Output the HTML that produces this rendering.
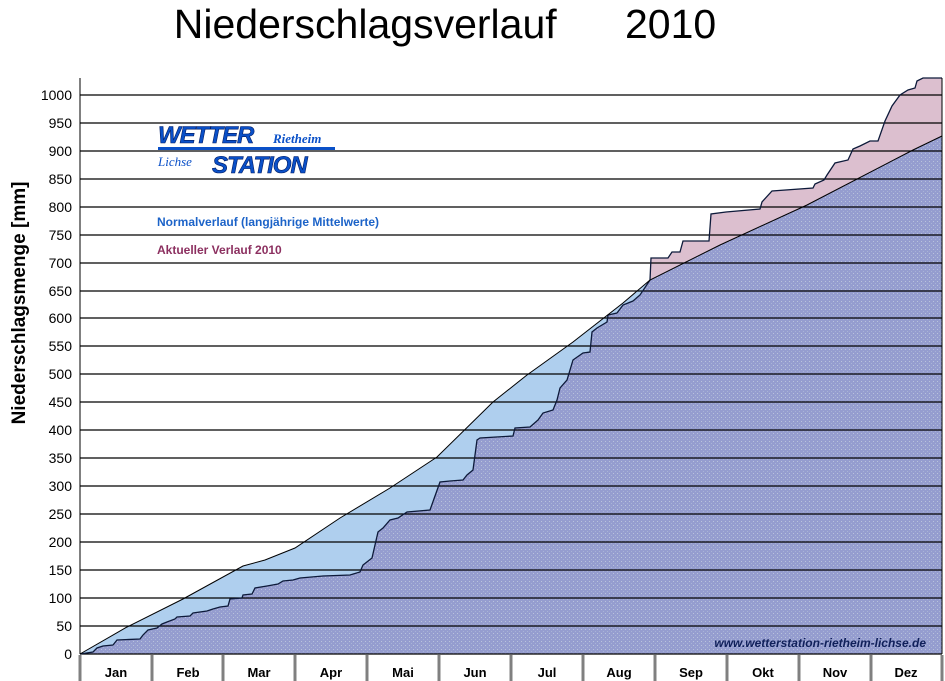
<!DOCTYPE html>
<html><head><meta charset="utf-8"><style>
html,body{margin:0;padding:0;background:#fff;}
svg{display:block;font-family:"Liberation Sans",Arial,sans-serif;}
</style></head><body>
<svg width="945" height="681" viewBox="0 0 945 681" xmlns="http://www.w3.org/2000/svg">
<defs>
<pattern id="dots" width="4" height="4" patternUnits="userSpaceOnUse">
<rect width="4" height="4" fill="#959dcf"/>
<rect x="1" y="1" width="1" height="1" fill="#b9c3dc"/>
<rect x="3" y="3" width="1" height="1" fill="#a8b3d6"/>
</pattern>
<clipPath id="nclip"><path d="M80,654 L127,627 L183,599 L243,566 L265,560 L295,548 L340,518 L390,488 L437,457 L493,402 L527,375 L573,342 L623,303 L650,280 L720,245 L807,205 L913,150 L942,136 L942,654 Z"/></clipPath>
</defs>
<path d="M80,654 L93,652 L97,648 L103,646 L113,645 L117,640 L140,639 L143,635 L148,630 L157,628 L162,624 L167,622 L175,619 L177,617 L190,616 L193,613 L207,611 L213,609 L220,607 L228,606 L230,599 L242,598 L243,595 L252,594 L255,588 L267,586 L278,584 L283,581 L293,580 L300,578 L323,576 L350,575 L360,572 L363,565 L372,558 L375,545 L378,532 L383,528 L390,520 L398,518 L407,512 L430,510 L440,482 L450,481 L463,480 L467,475 L473,470 L477,440 L480,438 L513,436 L515,428 L530,427 L538,420 L543,413 L553,410 L557,400 L560,388 L567,380 L573,360 L583,353 L590,352 L592,332 L597,328 L607,322 L608,315 L617,313 L623,305 L633,301 L640,295 L648,283 L650,280 L651,258 L668,258 L672,252 L680,252 L683,241 L709,241 L711,214 L726,212 L760,209 L762,202 L772,191 L813,188 L815,184 L824,180 L827,175 L835,163 L848,160 L853,149 L860,146 L870,141 L878,141 L885,121 L892,106 L900,95 L908,90 L915,88 L917,81 L923,78 L942,78 L942,654 Z" fill="#dcbfcf"/>
<path d="M80,654 L127,627 L183,599 L243,566 L265,560 L295,548 L340,518 L390,488 L437,457 L493,402 L527,375 L573,342 L623,303 L650,280 L720,245 L807,205 L913,150 L942,136 L942,654 Z" fill="#afcfee"/>
<g clip-path="url(#nclip)">
<path d="M80,654 L93,652 L97,648 L103,646 L113,645 L117,640 L140,639 L143,635 L148,630 L157,628 L162,624 L167,622 L175,619 L177,617 L190,616 L193,613 L207,611 L213,609 L220,607 L228,606 L230,599 L242,598 L243,595 L252,594 L255,588 L267,586 L278,584 L283,581 L293,580 L300,578 L323,576 L350,575 L360,572 L363,565 L372,558 L375,545 L378,532 L383,528 L390,520 L398,518 L407,512 L430,510 L440,482 L450,481 L463,480 L467,475 L473,470 L477,440 L480,438 L513,436 L515,428 L530,427 L538,420 L543,413 L553,410 L557,400 L560,388 L567,380 L573,360 L583,353 L590,352 L592,332 L597,328 L607,322 L608,315 L617,313 L623,305 L633,301 L640,295 L648,283 L650,280 L651,258 L668,258 L672,252 L680,252 L683,241 L709,241 L711,214 L726,212 L760,209 L762,202 L772,191 L813,188 L815,184 L824,180 L827,175 L835,163 L848,160 L853,149 L860,146 L870,141 L878,141 L885,121 L892,106 L900,95 L908,90 L915,88 L917,81 L923,78 L942,78 L942,654 Z" fill="url(#dots)"/>
</g>
<g stroke="#000" stroke-width="1.2">
<line x1="80" y1="95" x2="942" y2="95"/><line x1="80" y1="123" x2="942" y2="123"/><line x1="80" y1="151" x2="942" y2="151"/><line x1="80" y1="179" x2="942" y2="179"/><line x1="80" y1="207" x2="942" y2="207"/><line x1="80" y1="235" x2="942" y2="235"/><line x1="80" y1="263" x2="942" y2="263"/><line x1="80" y1="291" x2="942" y2="291"/><line x1="80" y1="318" x2="942" y2="318"/><line x1="80" y1="346" x2="942" y2="346"/><line x1="80" y1="374" x2="942" y2="374"/><line x1="80" y1="402" x2="942" y2="402"/><line x1="80" y1="430" x2="942" y2="430"/><line x1="80" y1="458" x2="942" y2="458"/><line x1="80" y1="486" x2="942" y2="486"/><line x1="80" y1="514" x2="942" y2="514"/><line x1="80" y1="542" x2="942" y2="542"/><line x1="80" y1="570" x2="942" y2="570"/><line x1="80" y1="598" x2="942" y2="598"/><line x1="80" y1="626" x2="942" y2="626"/><line x1="80" y1="654" x2="942" y2="654"/>
</g>
<path d="M80,654 L93,652 L97,648 L103,646 L113,645 L117,640 L140,639 L143,635 L148,630 L157,628 L162,624 L167,622 L175,619 L177,617 L190,616 L193,613 L207,611 L213,609 L220,607 L228,606 L230,599 L242,598 L243,595 L252,594 L255,588 L267,586 L278,584 L283,581 L293,580 L300,578 L323,576 L350,575 L360,572 L363,565 L372,558 L375,545 L378,532 L383,528 L390,520 L398,518 L407,512 L430,510 L440,482 L450,481 L463,480 L467,475 L473,470 L477,440 L480,438 L513,436 L515,428 L530,427 L538,420 L543,413 L553,410 L557,400 L560,388 L567,380 L573,360 L583,353 L590,352 L592,332 L597,328 L607,322 L608,315 L617,313 L623,305 L633,301 L640,295 L648,283 L650,280 L651,258 L668,258 L672,252 L680,252 L683,241 L709,241 L711,214 L726,212 L760,209 L762,202 L772,191 L813,188 L815,184 L824,180 L827,175 L835,163 L848,160 L853,149 L860,146 L870,141 L878,141 L885,121 L892,106 L900,95 L908,90 L915,88 L917,81 L923,78 L942,78" fill="none" stroke="#0d1a3a" stroke-width="1.3"/>
<path d="M80,654 L127,627 L183,599 L243,566 L265,560 L295,548 L340,518 L390,488 L437,457 L493,402 L527,375 L573,342 L623,303 L650,280 L720,245 L807,205 L913,150 L942,136" fill="none" stroke="#000" stroke-width="1"/>
<line x1="80" y1="78" x2="80" y2="654" stroke="#000"/>
<line x1="942" y1="78" x2="942" y2="654" stroke="#000"/>
<g font-size="14" text-anchor="end" fill="#000">
<text x="72" y="100">1000</text><text x="72" y="128">950</text><text x="72" y="156">900</text><text x="72" y="184">850</text><text x="72" y="212">800</text><text x="72" y="240">750</text><text x="72" y="268">700</text><text x="72" y="296">650</text><text x="72" y="323">600</text><text x="72" y="351">550</text><text x="72" y="379">500</text><text x="72" y="407">450</text><text x="72" y="435">400</text><text x="72" y="463">350</text><text x="72" y="491">300</text><text x="72" y="519">250</text><text x="72" y="547">200</text><text x="72" y="575">150</text><text x="72" y="603">100</text><text x="72" y="631">50</text><text x="72" y="659">0</text>
</g>
<g stroke="#808080" stroke-width="3">
<line x1="80" y1="655" x2="80" y2="681"/><line x1="152" y1="655" x2="152" y2="681"/><line x1="223" y1="655" x2="223" y2="681"/><line x1="295" y1="655" x2="295" y2="681"/><line x1="367" y1="655" x2="367" y2="681"/><line x1="439" y1="655" x2="439" y2="681"/><line x1="511" y1="655" x2="511" y2="681"/><line x1="583" y1="655" x2="583" y2="681"/><line x1="655" y1="655" x2="655" y2="681"/><line x1="727" y1="655" x2="727" y2="681"/><line x1="799" y1="655" x2="799" y2="681"/><line x1="871" y1="655" x2="871" y2="681"/><line x1="942" y1="655" x2="942" y2="681"/>
</g>
<g font-size="13" font-weight="bold" text-anchor="middle">
<text x="116" y="677">Jan</text><text x="188" y="677">Feb</text><text x="259" y="677">Mar</text><text x="331" y="677">Apr</text><text x="403" y="677">Mai</text><text x="475" y="677">Jun</text><text x="547" y="677">Jul</text><text x="619" y="677">Aug</text><text x="691" y="677">Sep</text><text x="763" y="677">Okt</text><text x="835" y="677">Nov</text><text x="906" y="677">Dez</text>
</g>
<text x="445" y="38" font-size="41" text-anchor="middle" xml:space="preserve">Niederschlagsverlauf      2010</text>
<text transform="translate(25,303) rotate(-90)" font-size="19" font-weight="bold" text-anchor="middle">Niederschlagsmenge [mm]</text>
<g fill="#0a50c8">
<text x="158" y="143" font-size="24" font-weight="bold" font-style="italic" stroke="#001a60" stroke-width="0.6" letter-spacing="-1">WETTER</text>
<text x="273" y="143" font-size="13" font-weight="bold" font-style="italic" font-family="Liberation Serif,serif">Rietheim</text>
<rect x="158" y="147" width="177" height="3"/>
<text x="158" y="166" font-size="13" font-style="italic" font-family="Liberation Serif,serif">Lichse</text>
<text x="212" y="173" font-size="24" font-weight="bold" font-style="italic" stroke="#001a60" stroke-width="0.6" letter-spacing="-1">STATION</text>
</g>
<text x="157" y="226" font-size="12" font-weight="bold" fill="#1c63c8">Normalverlauf (langjährige Mittelwerte)</text>
<text x="157" y="254" font-size="12" font-weight="bold" fill="#8c3060">Aktueller Verlauf 2010</text>
<text x="926" y="647" font-size="12" font-weight="bold" font-style="italic" fill="#10205a" text-anchor="end">www.wetterstation-rietheim-lichse.de</text>
</svg>
</body></html>
